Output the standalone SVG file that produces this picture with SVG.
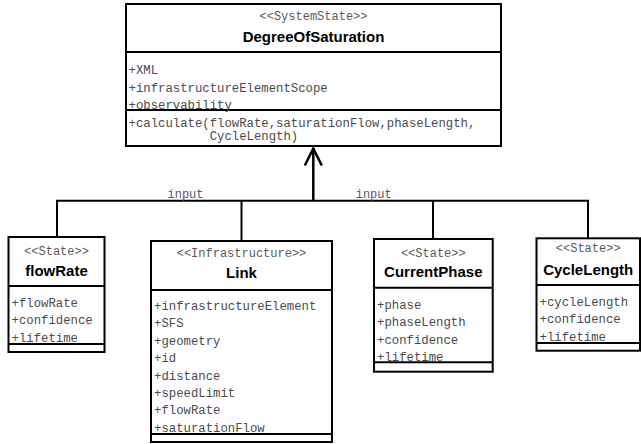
<svg xmlns="http://www.w3.org/2000/svg" width="641" height="444" viewBox="0 0 641 444">
  <style>
    .box { fill: #ffffff; stroke: #000000; stroke-width: 2; }
    .div { stroke: #000000; stroke-width: 2; fill: none; }
    .stereo { font-family: "Liberation Mono", "Courier New", monospace; font-size: 12px; fill: #5a5a5a; text-anchor: middle; }
    .name { font-family: "Liberation Sans", Arial, sans-serif; font-size: 15px; font-weight: bold; fill: #000000; text-anchor: middle; }
    .attr { font-family: "Liberation Mono", "Courier New", monospace; font-size: 12.3px; fill: #4a4a4a; }
    .lbl { font-family: "Liberation Mono", "Courier New", monospace; font-size: 12px; fill: #5a5a5a; text-anchor: middle; }
    .conn { stroke: #000000; stroke-width: 2; fill: none; }
    .arrow { stroke: #000000; stroke-width: 2.5; fill: none; stroke-linejoin: miter; }
  </style>

  <!-- dependency connectors -->
  <g id="connectors">
    <path class="conn" d="M57 237 V200.7 H588 V238"/>
    <path class="conn" d="M241.5 200.7 V241"/>
    <path class="conn" d="M433 200.7 V239"/>
    <path class="arrow" d="M313.3 200.7 V148"/>
    <path class="arrow" d="M304.8 165.5 L313.3 148.5 L321.8 165.5"/>
    <text class="lbl" x="185.5" y="197.5">input</text>
    <text class="lbl" x="373.7" y="197.5">input</text>
  </g>

  <!-- system state class -->
  <g id="DegreeOfSaturation">
    <rect class="box" x="126" y="4" width="375" height="142"/>
    <line class="div" x1="126" y1="52" x2="501" y2="52"/>
    <line class="div" x1="126" y1="110" x2="501" y2="110"/>
    <text class="stereo" x="313.5" y="19.5">&lt;&lt;SystemState&gt;&gt;</text>
    <text class="name" x="313.5" y="42.4">DegreeOfSaturation</text>
    <text class="attr" x="128.5" y="74.3">+XML</text>
    <text class="attr" x="128.5" y="91.8">+infrastructureElementScope</text>
    <text class="attr" x="128.5" y="109.3">+observability</text>
    <text class="attr" x="128.5" y="126.6">+calculate(flowRate,saturationFlow,phaseLength,</text>
    <text class="attr" x="209.7" y="139.6">CycleLength)</text>
  </g>

  <!-- flowRate state -->
  <g id="flowRate">
    <rect class="box" x="8.5" y="237" width="96" height="115"/>
    <line class="div" x1="8.5" y1="286" x2="104.5" y2="286"/>
    <line class="div" x1="8.5" y1="344" x2="104.5" y2="344"/>
    <text class="stereo" x="56.5" y="255">&lt;&lt;State&gt;&gt;</text>
    <text class="name" x="56.5" y="276">flowRate</text>
    <text class="attr" x="11.5" y="306.5">+flowRate</text>
    <text class="attr" x="11.5" y="324.2">+confidence</text>
    <text class="attr" x="11.5" y="341.9">+lifetime</text>
  </g>

  <!-- infrastructure link -->
  <g id="Link">
    <rect class="box" x="151" y="241" width="181" height="201"/>
    <line class="div" x1="151" y1="290" x2="332" y2="290"/>
    <line class="div" x1="151" y1="434" x2="332" y2="434"/>
    <text class="stereo" x="241.5" y="257">&lt;&lt;Infrastructure&gt;&gt;</text>
    <text class="name" x="241.5" y="278">Link</text>
    <text class="attr" x="154" y="310">+infrastructureElement</text>
    <text class="attr" x="154" y="327.4">+SFS</text>
    <text class="attr" x="154" y="344.8">+geometry</text>
    <text class="attr" x="154" y="362.2">+id</text>
    <text class="attr" x="154" y="379.6">+distance</text>
    <text class="attr" x="154" y="397">+speedLimit</text>
    <text class="attr" x="154" y="414.4">+flowRate</text>
    <text class="attr" x="154" y="431.8">+saturationFlow</text>
  </g>

  <!-- current phase state -->
  <g id="CurrentPhase">
    <rect class="box" x="374" y="239" width="118.7" height="132.7"/>
    <line class="div" x1="374" y1="287.7" x2="492.7" y2="287.7"/>
    <line class="div" x1="374" y1="362.3" x2="492.7" y2="362.3"/>
    <text class="stereo" x="433.3" y="256.5">&lt;&lt;State&gt;&gt;</text>
    <text class="name" x="433.3" y="277">CurrentPhase</text>
    <text class="attr" x="377" y="308.7">+phase</text>
    <text class="attr" x="377" y="326.1">+phaseLength</text>
    <text class="attr" x="377" y="343.5">+confidence</text>
    <text class="attr" x="377" y="360.9">+lifetime</text>
  </g>

  <!-- cycle length state -->
  <g id="CycleLength">
    <rect class="box" x="536.5" y="238.3" width="103.5" height="112.4"/>
    <line class="div" x1="536.5" y1="285" x2="640" y2="285"/>
    <line class="div" x1="536.5" y1="343" x2="640" y2="343"/>
    <text class="stereo" x="588.2" y="252">&lt;&lt;State&gt;&gt;</text>
    <text class="name" x="588.2" y="274.6">CycleLength</text>
    <text class="attr" x="539.5" y="306">+cycleLength</text>
    <text class="attr" x="539.5" y="323.4">+confidence</text>
    <text class="attr" x="539.5" y="340.8">+lifetime</text>
  </g>
</svg>
